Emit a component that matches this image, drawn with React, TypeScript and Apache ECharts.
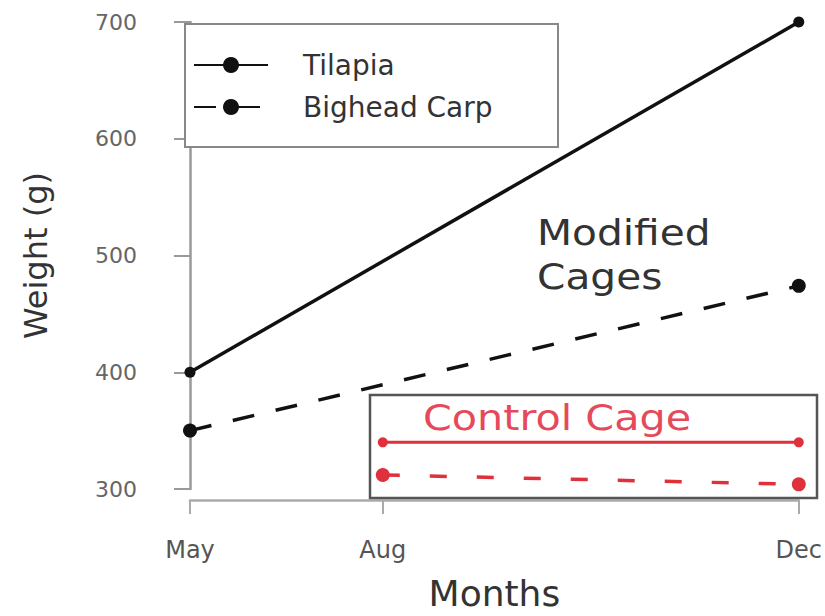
import React, { useEffect, useRef } from "react";
import * as echarts from "echarts";

const monthLabels = ["May", "Aug", "Dec"];
const monthPos = [0, 0.95, 3];
const yTicks = [300, 400, 500, 600, 700];

// Modified cages: May -> Dec
const tilapiaModified = [400, 700];
const bigheadModified = [350, 474];
// Control cage: Aug -> Dec
const tilapiaControl = [340, 340];
const bigheadControl = [312, 304];

const FONT = "DejaVu Sans";
const RED = "#e0303c";

export default function App() {
  const ref = useRef<HTMLDivElement>(null);
  useEffect(() => {
    if (!ref.current) return;
    const chart = echarts.init(ref.current, undefined, { renderer: "svg" });
    const modPts = (v: number[]) => [
      [monthPos[0], v[0]],
      [monthPos[2], v[1]],
    ];
    const ctlPts = (v: number[]) => [
      [monthPos[1], v[0]],
      [monthPos[2], v[1]],
    ];
    chart.setOption({
      animation: false,
      backgroundColor: "#fff",
      grid: { left: 190, right: 22, top: 22, bottom: 127 },
      xAxis: {
        type: "value",
        min: monthPos[0],
        max: monthPos[2],
        offset: 11,
        splitLine: { show: false },
        axisLine: { show: true, lineStyle: { color: "#aaa", width: 2.5 } },
        axisTick: {
          show: true,
          length: 14,
          customValues: monthPos,
          lineStyle: { color: "#aaa", width: 2 },
        },
        axisLabel: {
          customValues: monthPos,
          formatter: (v: number) => monthLabels[monthPos.indexOf(v)] ?? "",
          fontFamily: FONT,
          fontSize: 24,
          color: "#555",
          margin: 38,
        },
        name: "Months",
        nameLocation: "middle",
        nameGap: 75,
        nameTextStyle: { fontFamily: FONT, fontSize: 36, color: "#333" },
      },
      yAxis: {
        type: "value",
        min: yTicks[0],
        max: yTicks[yTicks.length - 1],
        interval: 100,
        offset: 10,
        splitLine: { show: false },
        axisLine: { show: true, lineStyle: { color: "#999", width: 2.5 } },
        axisTick: { show: true, length: 16, lineStyle: { color: "#999", width: 2 } },
        axisLabel: {
          fontFamily: FONT,
          fontSize: 22,
          color: "#666",
          margin: 43,
        },
        name: "Weight (g)",
        nameLocation: "middle",
        nameRotate: 90,
        nameGap: 128,
        nameTextStyle: { fontFamily: FONT, fontSize: 32, color: "#333" },
      },
      legend: {
        data: ["Tilapia", "Bighead Carp"],
        orient: "vertical",
        left: 185,
        top: 24,
        padding: [26, 20, 25, 8],
        itemGap: 12,
        itemWidth: 74,
        itemHeight: 20,
        borderColor: "#888",
        borderWidth: 2,
        borderRadius: 0,
        backgroundColor: "#fff",
        selectedMode: false,
        textStyle: {
          fontFamily: FONT,
          fontSize: 28,
          color: "#333",
          lineHeight: 30,
          padding: [0, 0, 0, 30],
          width: 235,
        },
      },
      graphic: [
        {
          type: "text",
          left: 537,
          top: 210,
          scaleX: 1.13,
          style: {
            text: "Modified\nCages",
            fontFamily: FONT,
            fontSize: 36,
            lineHeight: 44,
            fill: "#333",
          },
        },
        {
          type: "rect",
          shape: { x: 370, y: 395, width: 447, height: 103 },
          style: { fill: "none", stroke: "#555", lineWidth: 2.5 },
          z: 1,
        },
        {
          type: "text",
          left: 423,
          top: 400,
          scaleX: 1.18,
          style: {
            text: "Control Cage",
            fontFamily: FONT,
            fontSize: 35,
            fill: "#e64a5a",
          },
        },
      ],
      series: [
        {
          name: "Tilapia",
          type: "line",
          data: modPts(tilapiaModified),
          symbol: "circle",
          symbolSize: 11,
          clip: false,
          lineStyle: { color: "#111", width: 3.5, type: "solid" },
          itemStyle: { color: "#111" },
          z: 3,
        },
        {
          name: "Bighead Carp",
          type: "line",
          data: modPts(bigheadModified),
          symbol: "circle",
          symbolSize: 14,
          clip: false,
          lineStyle: { color: "#111", width: 3.5, type: [22, 22] },
          itemStyle: { color: "#111" },
          z: 3,
        },
        {
          name: "Tilapia (control)",
          type: "line",
          data: ctlPts(tilapiaControl),
          symbol: "circle",
          symbolSize: 10,
          clip: false,
          lineStyle: { color: RED, width: 3, type: "solid" },
          itemStyle: { color: RED },
          z: 3,
        },
        {
          name: "Bighead Carp (control)",
          type: "line",
          data: ctlPts(bigheadControl),
          symbol: "circle",
          symbolSize: 14,
          clip: false,
          lineStyle: { color: RED, width: 3.5, type: [17, 30] },
          itemStyle: { color: RED },
          z: 3,
        },
      ],
    });
    return () => chart.dispose();
  }, []);
  return (
    <div
      ref={ref}
      style={{ position: "fixed", left: 0, top: 0, width: 825, height: 616, background: "#fff" }}
    />
  );
}
